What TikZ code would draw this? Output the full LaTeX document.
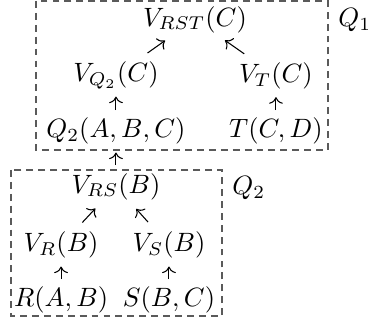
\documentclass[tikz,border=0pt]{standalone}
\usepackage{amsmath,amssymb}
\usepackage{tikz}
\usetikzlibrary{arrows.meta}
\definecolor{framegray}{RGB}{90,90,90}

\begin{document}
\begin{tikzpicture}[font=\fontsize{9.6pt}{11pt}\selectfont,
    rel/.style={inner sep=0pt},
    frame/.style={framegray, line width=0.5pt, dash pattern=on 2.6pt off 1.9pt},
    up/.style={-{To}, shorten <=8pt, shorten >=8pt},
    diagtop/.style={-{To}, shorten <=14.6pt, shorten >=13.8pt},
    diagbot/.style={-{To}, shorten <=11.8pt, shorten >=11.4pt}]
  \useasboundingbox (0,0) rectangle (4.894,-4.336);
  % верхний блок
  \node[rel] (vrst) at (2.586,-0.257) {$V_{RST}(C)$};
  \node[rel] (vq2) at (1.538,-1.000) {$V_{Q_2}(C)$};
  \node[rel] (vt) at (3.660,-1.008) {$V_T(C)$};
  \node[rel] (qtwo) at (1.538,-1.742) {$Q_2(A,B,C)$};
  \node[rel] (tcd) at (3.660,-1.742) {$T(C,D)$};
  % нижний блок
  \node[rel] (vrs) at (1.538,-2.472) {$V_{RS}(B)$};
  \node[rel] (vr) at (0.810,-3.254) {$V_R(B)$};
  \node[rel] (vs) at (2.241,-3.254) {$V_S(B)$};
  \node[rel] (rab) at (0.810,-3.983) {$R(A,B)$};
  \node[rel] (sbc) at (2.241,-3.983) {$S(B,C)$};
  % рамки
  \draw[frame] (0.477,-0.012) rectangle (4.349,-1.989);
  \draw[frame] (0.146,-2.254) rectangle (2.944,-4.190);
  \node[anchor=base west, inner sep=0pt] (q1lab) at (4.482,-0.358) {$Q_1$};
  \node[anchor=base west, inner sep=0pt] (q2lab) at (3.076,-2.586) {$Q_2$};
  % стрелки
  \draw[diagtop] (vq2.center) -- (vrst.center);
  \draw[diagtop] (vt.center) -- (vrst.center);
  \draw[up] (qtwo.center) -- (vq2.center);
  \draw[up] (tcd.center) -- (vt.center);
  \draw[up] (vrs.center) -- (qtwo.center);
  \draw[diagbot] (vr.center) -- (vrs.center);
  \draw[diagbot] (vs.center) -- (vrs.center);
  \draw[up] (rab.center) -- (vr.center);
  \draw[up] (sbc.center) -- (vs.center);
\end{tikzpicture}
\end{document}
